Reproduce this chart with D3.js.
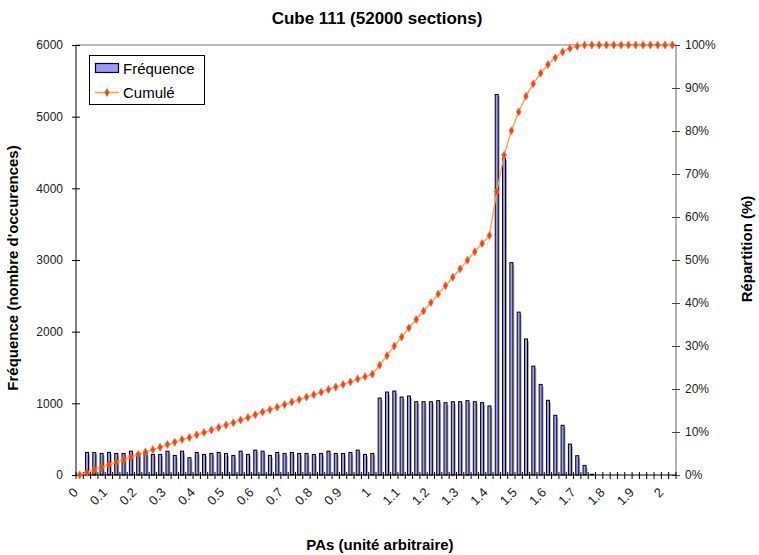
<!DOCTYPE html>
<html><head><meta charset="utf-8">
<script src="https://cdn.jsdelivr.net/npm/d3@7"></script>
<style>
html,body{margin:0;padding:0;background:#fff;}
svg text{font-family:"Liberation Sans",Arial,sans-serif;}
</style>
</head><body>
<svg id="chart" width="759" height="555"></svg>
<script>
// categories: 0, 0.025, ..., 2.025
const categories = ["0","0.025","0.05","0.075","0.1","0.125","0.15","0.175","0.2","0.225","0.25","0.275","0.3","0.325","0.35","0.375","0.4","0.425","0.45","0.475","0.5","0.525","0.55","0.575","0.6","0.625","0.65","0.675","0.7","0.725","0.75","0.775","0.8","0.825","0.85","0.875","0.9","0.925","0.95","0.975","1","1.025","1.05","1.075","1.1","1.125","1.15","1.175","1.2","1.225","1.25","1.275","1.3","1.325","1.35","1.375","1.4","1.425","1.45","1.475","1.5","1.525","1.55","1.575","1.6","1.625","1.65","1.675","1.7","1.725","1.75","1.775","1.8","1.825","1.85","1.875","1.9","1.925","1.95","1.975","2","2.025"];
const frequence = [0,315,315,301,315,301,301,333,301,301,287,287,333,273,333,241,315,287,301,315,301,273,333,287,347,333,273,315,301,315,301,301,287,301,333,301,301,315,347,287,301,1074,1157,1171,1088,1102,1023,1023,1023,1037,1009,1023,1023,1037,1023,1009,963,5310,4420,2963,2273,1898,1519,1264,1042,833,694,431,269,134,10,0,0,0,0,0,0,0,0,0,0,0];
const cumule = [0,0.61,1.21,1.79,2.39,2.97,3.55,4.19,4.77,5.35,5.90,6.45,7.09,7.61,8.25,8.72,9.32,9.87,10.45,11.06,11.63,12.16,12.80,13.35,14.02,14.66,15.18,15.79,16.36,16.97,17.55,18.13,18.68,19.26,19.90,20.47,21.05,21.66,22.32,22.87,23.45,25.52,27.74,29.99,32.08,34.20,36.16,38.13,40.09,42.08,44.02,45.99,47.95,49.95,51.91,53.85,55.70,65.90,74.39,80.08,84.45,88.10,91.01,93.44,95.44,97.05,98.38,99.21,99.72,99.98,100,100,100,100,100,100,100,100,100,100,100,100];
const xTickLabels = ["0","0.1","0.2","0.3","0.4","0.5","0.6","0.7","0.8","0.9","1","1.1","1.2","1.3","1.4","1.5","1.6","1.7","1.8","1.9","2"];
const leftTicks = [0,1000,2000,3000,4000,5000,6000];
const rightTicks = [0,10,20,30,40,50,60,70,80,90,100];

const svg = d3.select("#chart");
const L = 76, R = 676, T = 45, B = 475;

const x = d3.scaleBand().domain(categories).range([L, R]).padding(0);
const y = d3.scaleLinear().domain([0, 6000]).range([B, T]);
const y2 = d3.scaleLinear().domain([0, 100]).range([B, T]);

// title
svg.append("text").attr("x", 377).attr("y", 24).attr("text-anchor", "middle")
  .attr("font-size", 17).attr("font-weight", "bold").text("Cube 111 (52000 sections)");

// top border
svg.append("line").attr("x1", L).attr("x2", R).attr("y1", T).attr("y2", T)
  .attr("stroke", "#a0a0a0").attr("stroke-width", 1.5);

// bars (shadow + bar)
const bw = 3;
const barG = svg.append("g");
barG.selectAll("rect.sh").data(frequence).join("rect").attr("class","sh")
  .attr("x", (d,i) => x(categories[i]) + x.bandwidth()/2 - bw/2 + bw)
  .attr("y", d => y(d) + 2)
  .attr("width", 1.5)
  .attr("height", d => Math.max(0, B - y(d) - 2))
  .attr("fill", "#b0b0b0");
barG.selectAll("rect.bar").data(frequence).join("rect").attr("class","bar")
  .attr("x", (d,i) => x(categories[i]) + x.bandwidth()/2 - bw/2)
  .attr("y", d => y(d))
  .attr("width", bw)
  .attr("height", d => B - y(d))
  .attr("fill", "#9999ff").attr("stroke", "#000").attr("stroke-width", 1)
  .attr("display", d => d > 0 ? null : "none");

// left axis
const leftAxis = d3.axisLeft(y).tickValues(leftTicks).tickSize(4).tickPadding(9).tickFormat(d3.format("d"));
const gl = svg.append("g").attr("transform", `translate(${L},0)`).call(leftAxis);
gl.select(".domain").attr("stroke", "#000").attr("d", `M0,${T}V${B}`);
gl.selectAll(".tick line").attr("x1", 4).attr("x2", -4).attr("stroke", "#000");
gl.selectAll(".tick text").attr("font-size", 12).attr("fill", "#222").attr("font-family", "Liberation Sans, Arial, sans-serif");

// right axis
const rightAxis = d3.axisRight(y2).tickValues(rightTicks).tickSize(4).tickPadding(5).tickFormat(d => d + "%");
const gr = svg.append("g").attr("transform", `translate(${R},0)`).call(rightAxis);
gr.select(".domain").attr("stroke", "#666").attr("d", `M0,${T}V${B}`);
gr.selectAll(".tick line").attr("x1", -4).attr("x2", 4).attr("stroke", "#444");
gr.selectAll(".tick text").attr("font-size", 12).attr("fill", "#222").attr("font-family", "Liberation Sans, Arial, sans-serif");

// bottom axis (ticks at category boundaries)
const gb = svg.append("g");
gb.append("line").attr("x1", L).attr("x2", R).attr("y1", B).attr("y2", B).attr("stroke", "#000");
const bounds = categories.map(c => x(c)).concat([R]);
gb.selectAll("line.tk").data(bounds).join("line").attr("class","tk")
  .attr("x1", d => d).attr("x2", d => d).attr("y1", B - 3).attr("y2", B + 4)
  .attr("stroke", "#000");
gb.selectAll("text").data(xTickLabels).join("text")
  .attr("transform", (d,i) => `translate(${x(categories[i*4]) + x.bandwidth()/2 - 4},${B + 15}) rotate(-45)`)
  .attr("text-anchor", "end").attr("dy", "0.35em")
  .attr("font-size", 13).attr("fill", "#222").text(d => d);

// cumulative line
const line = d3.line().x((d,i) => x(categories[i]) + x.bandwidth()/2).y(d => y2(d));
svg.append("path").datum(cumule).attr("d", line).attr("fill", "none")
  .attr("stroke", "#ffa040").attr("stroke-width", 1.3);
const sym = d3.symbol().type(d3.symbolDiamond).size(18);
svg.selectAll("path.mk").data(cumule).join("path").attr("class","mk")
  .attr("transform", (d,i) => `translate(${x(categories[i]) + x.bandwidth()/2},${y2(d)})`)
  .attr("d", sym).attr("fill", "#ff3c14").attr("stroke", "#ff6a3c").attr("stroke-width", 0.8);

// axis titles
svg.append("text").attr("transform", "translate(18,268) rotate(-90)").attr("text-anchor", "middle")
  .attr("font-size", 15).attr("font-weight", "bold").text("Fréquence (nombre d'occurences)");
svg.append("text").attr("transform", "translate(752,249) rotate(-90)").attr("text-anchor", "middle")
  .attr("font-size", 15).attr("font-weight", "bold").text("Répartition (%)");
svg.append("text").attr("x", 380).attr("y", 550).attr("text-anchor", "middle")
  .attr("font-size", 15).attr("font-weight", "bold").text("PAs (unité arbitraire)");

// legend
const lg = svg.append("g");
lg.append("rect").attr("x", 89.5).attr("y", 55.5).attr("width", 115).attr("height", 49)
  .attr("fill", "#fff").attr("stroke", "#000");
lg.append("rect").attr("x", 95.5).attr("y", 63.5).attr("width", 23).attr("height", 9)
  .attr("fill", "#9999ff").attr("stroke", "#000").attr("stroke-width", 1.2);
lg.append("text").attr("x", 123).attr("y", 74).attr("font-size", 15).text("Fréquence");
lg.append("line").attr("x1", 95).attr("x2", 119).attr("y1", 92.5).attr("y2", 92.5)
  .attr("stroke", "#ffa040").attr("stroke-width", 1.5);
lg.append("path").attr("transform", "translate(107,92.5)").attr("d", sym)
  .attr("fill", "#ff3c14").attr("stroke", "#ff6a3c").attr("stroke-width", 0.8);
lg.append("text").attr("x", 123).attr("y", 98).attr("font-size", 15).text("Cumulé");
</script>
</body></html>
